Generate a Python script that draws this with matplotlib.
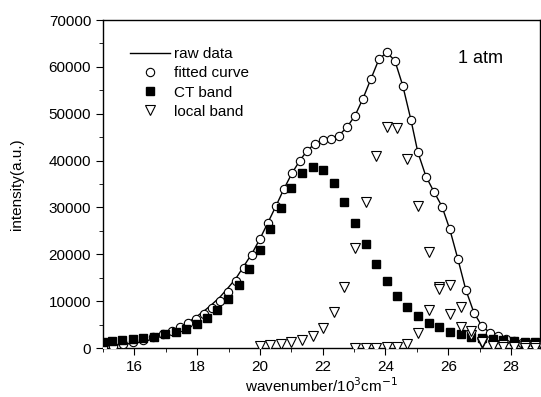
import matplotlib
matplotlib.use("Agg")
import matplotlib.pyplot as plt
from matplotlib.lines import Line2D
from matplotlib.ticker import MultipleLocator

plt.rcParams['font.family'] = ['Liberation Sans', 'DejaVu Sans']

# fitted curve (open circles) and raw data line
fit_x = [15.00, 15.32, 15.64, 15.96, 16.27, 16.59, 16.91, 17.20, 17.45, 17.71,
         17.96, 18.22, 18.47, 18.73, 18.98, 19.24, 19.49, 19.75, 20.00, 20.25,
         20.51, 20.76, 21.02, 21.27, 21.50, 21.75, 22.01, 22.26, 22.52, 22.77,
         23.03, 23.28, 23.54, 23.79, 24.04, 24.30, 24.55, 24.81, 25.03, 25.29,
         25.54, 25.80, 26.05, 26.31, 26.56, 26.82, 27.07, 27.32, 27.58, 27.83,
         28.09, 28.34, 28.60, 28.82]
fit_y = [200, 500, 900, 1200, 1750, 2350, 2900, 3700, 4500, 5300,
         6200, 7300, 8500, 10100, 12000, 14200, 17000, 19900, 23200, 26700,
         30300, 33900, 37300, 40000, 42100, 43600, 44300, 44600, 45300, 47100,
         49600, 53200, 57500, 61600, 63100, 61300, 56000, 48700, 41800, 36600,
         33400, 30200, 25300, 18900, 12400, 7500, 4700, 3300, 2600, 1900,
         1500, 1100, 850, 800]
raw_y = [300, 600, 800, 1000, 1350, 1900, 2600, 3500, 4500, 5500,
         6600, 7900, 9300, 10900, 12800, 14900, 17500, 20200, 23300, 26700,
         30300, 33900, 37300, 40000, 42100, 43600, 44300, 44700, 45400, 47100,
         49600, 53200, 57500, 61600, 63100, 61300, 56000, 48700, 41800, 36600,
         33400, 30200, 25300, 18900, 12400, 7500, 4700, 3300, 2500, 1900,
         1500, 1100, 850, 800]

# CT band (filled squares)
ct_x = [14.99, 15.29, 15.61, 15.95, 16.28, 16.62, 16.97, 17.32, 17.64, 17.98,
        18.30, 18.64, 18.98, 19.32, 19.66, 20.00, 20.33, 20.67, 21.00, 21.34,
        21.68, 22.02, 22.36, 22.68, 23.03, 23.37, 23.70, 24.04, 24.37, 24.70,
        25.04, 25.38, 25.72, 26.06, 26.40, 26.74, 27.08, 27.41, 27.75, 28.09,
        28.43, 28.77]
ct_y = [1350, 1500, 1650, 1850, 2070, 2400, 2900, 3500, 4050, 5100,
        6450, 8100, 10450, 13450, 16850, 20900, 25400, 29950, 34150, 37300,
        38700, 38000, 35150, 31200, 26750, 22150, 17900, 14300, 11150, 8800,
        6850, 5400, 4400, 3500, 2900, 2400, 2200, 1900, 1700, 1500,
        1300, 1200]

# local band (open down-triangles), two components
locA_x = [20.00, 20.33, 20.67, 21.00, 21.34, 21.68, 22.02, 22.36, 22.68, 23.03,
          23.37, 23.70, 24.04, 24.37, 24.70, 25.04, 25.38, 25.72, 26.06, 26.40,
          26.74, 27.08, 27.41, 27.75, 28.09, 28.43, 28.77]
locA_y = [430, 580, 850, 1220, 1710, 2560, 4200, 7620, 13080, 21280,
          31090, 40970, 47100, 46900, 40300, 30300, 20400, 13100, 7260, 4420,
          2700, 1000, 700, 550, 450, 400, 350]
locB_x = [23.03, 23.37, 23.70, 24.04, 24.37, 24.70, 25.04, 25.38, 25.72, 26.06,
          26.40, 26.74, 27.08, 27.41, 27.75, 28.09, 28.43, 28.77]
locB_y = [100, 100, 100, 150, 250, 900, 3100, 8200, 12700, 13400,
          8800, 3600, 1200, 400, 250, 150, 100, 100]

legend_labels = ["raw data", "fitted curve", "CT band", "local band"]

fig = plt.figure(figsize=(5.41, 3.97), dpi=100)
ax = fig.add_axes([0.1904, 0.1234, 0.8076, 0.8262])

ax.plot(fit_x, raw_y, '-', color='black', lw=1.0, zorder=2)
ax.plot(fit_x, fit_y, 'o', ms=6, mfc='white', mec='black', mew=0.8, zorder=3)
ax.plot(ct_x, ct_y, 's', ms=5.5, mfc='black', mec='black', zorder=4)
ax.plot(locA_x, locA_y, 'v', ms=6.5, mfc='white', mec='black', mew=0.8, zorder=5)
ax.plot(locB_x, locB_y, 'v', ms=6.5, mfc='white', mec='black', mew=0.8, zorder=5)

ax.set_xlim(15, 28.92)
ax.set_ylim(0, 70000)
ax.xaxis.set_major_locator(MultipleLocator(2))
ax.xaxis.set_minor_locator(MultipleLocator(1))
ax.yaxis.set_major_locator(MultipleLocator(10000))
ax.yaxis.set_minor_locator(MultipleLocator(5000))
ax.tick_params(which='both', direction='out', top=False, right=False, labelsize=11)
ax.tick_params(which='major', length=5)
ax.tick_params(which='minor', length=3)
for s in ax.spines.values():
    s.set_linewidth(1.0)

ax.set_xlabel("wavenumber/10$^3$cm$^{-1}$", fontsize=11, labelpad=2)
ax.set_ylabel("intensity(a.u.)", fontsize=11, labelpad=18)

ax.text(0.812, 0.87, "1 atm", transform=ax.transAxes, fontsize=13)

handles = [
    Line2D([], [], color='black', lw=1.0),
    Line2D([], [], ls='none', marker='o', ms=6, mfc='white', mec='black', mew=0.8),
    Line2D([], [], ls='none', marker='s', ms=5.5, mfc='black', mec='black'),
    Line2D([], [], ls='none', marker='v', ms=6.5, mfc='white', mec='black', mew=0.8),
]
ax.legend(handles, legend_labels, loc='upper left', bbox_to_anchor=(0.062, 0.917),
          frameon=False, fontsize=11, handlelength=2.6, handletextpad=0.25,
          labelspacing=0.34, borderpad=0, borderaxespad=0)

fig.savefig("out.png", dpi=100)
